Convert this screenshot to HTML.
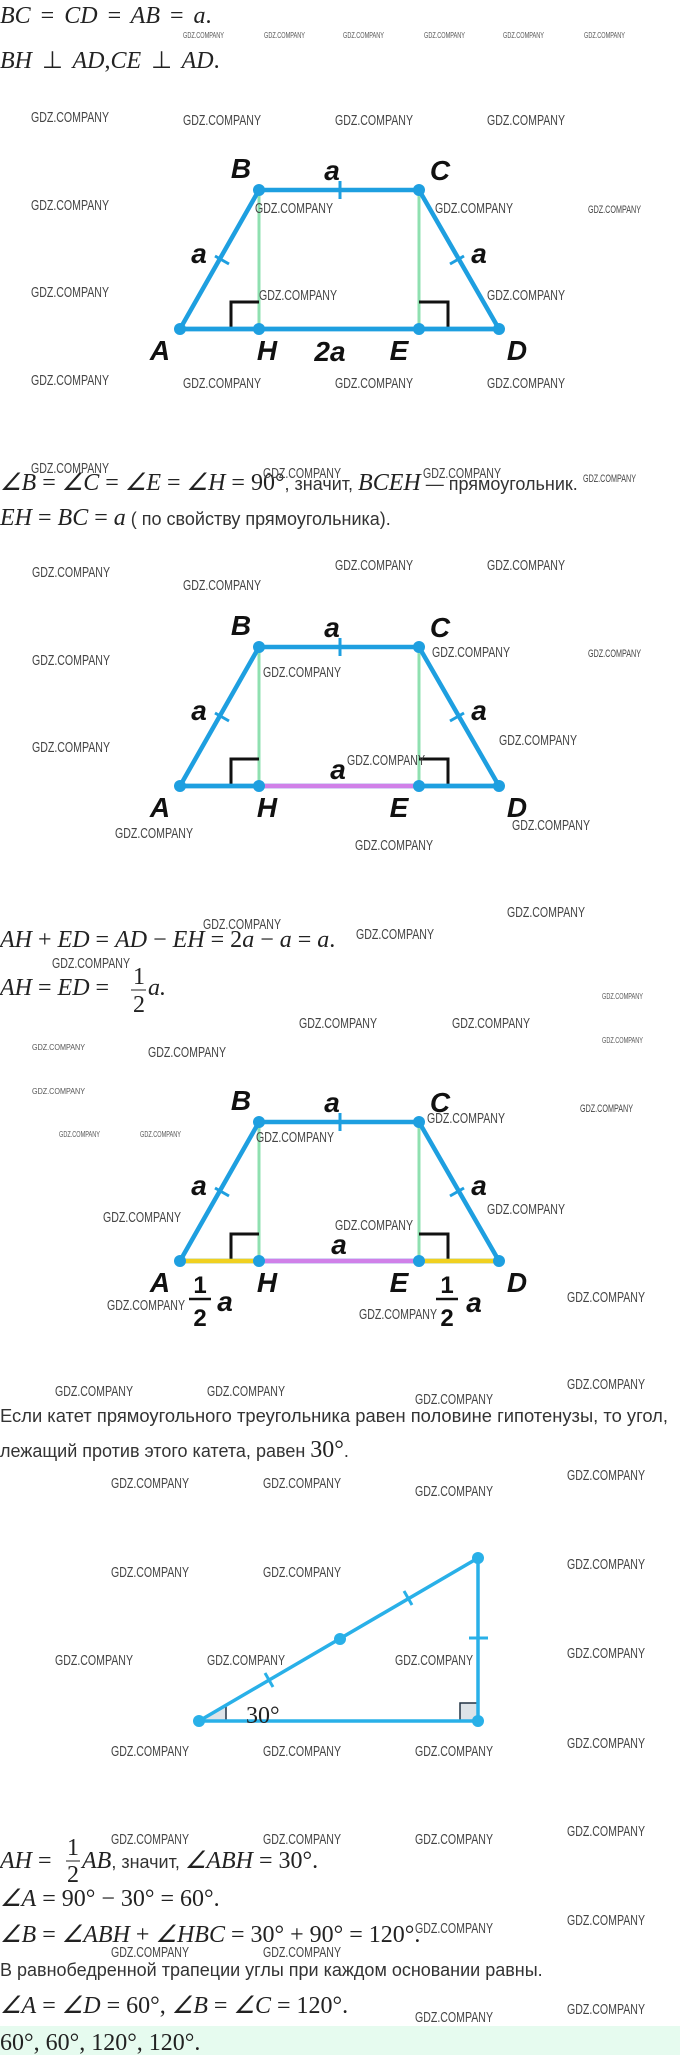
<!DOCTYPE html>
<html><head><meta charset="utf-8"><style>
html,body{margin:0;padding:0;background:#fff;}
svg{display:block;}
.m{font-family:"Liberation Serif",serif;font-size:24px;fill:#222;}
.i{font-style:italic;}
.r{font-family:"Liberation Sans","Noto Sans CJK SC",sans-serif;font-size:18px;fill:#333;}
.w{font-family:"Liberation Sans",sans-serif;font-size:15px;fill:#444;}
.ws{font-family:"Liberation Sans",sans-serif;font-size:8px;fill:#555;}
.L{font-family:"Liberation Sans",sans-serif;font-weight:bold;font-style:italic;font-size:28px;fill:#111;text-anchor:middle;}
</style></head><body>
<svg width="680" height="2055" viewBox="0 0 680 2055" xmlns="http://www.w3.org/2000/svg">
<defs>
<g id="trap">
  <line x1="259" y1="190" x2="259" y2="329" stroke="#8fe0b0" stroke-width="3"/>
  <line x1="419" y1="190" x2="419" y2="329" stroke="#8fe0b0" stroke-width="3"/>
  <path d="M231,329 V302 H259 M448,329 V302 H419" fill="none" stroke="#111" stroke-width="3"/>
  <polygon points="180,329 259,190 419,190 499,329" fill="none" stroke="#1e9fe0" stroke-width="4.5" stroke-linejoin="round"/>
  <line x1="340" y1="181" x2="340" y2="199" stroke="#1e9fe0" stroke-width="3"/>
  <line x1="215" y1="256" x2="229" y2="264" stroke="#1e9fe0" stroke-width="3"/>
  <line x1="450" y1="264" x2="464" y2="256" stroke="#1e9fe0" stroke-width="3"/>
  <text class="L" x="241" y="178">B</text>
  <text class="L" x="332" y="180">a</text>
  <text class="L" x="440" y="180">C</text>
  <text class="L" x="199" y="263">a</text>
  <text class="L" x="479" y="263">a</text>
  <text class="L" x="160" y="360">A</text>
  <text class="L" x="267" y="360">H</text>
  <text class="L" x="399" y="360">E</text>
  <text class="L" x="517" y="360">D</text>
</g>
<g id="dots" fill="#1e9fe0">
  <circle cx="180" cy="329" r="6"/><circle cx="259" cy="329" r="6"/><circle cx="419" cy="329" r="6"/>
  <circle cx="499" cy="329" r="6"/><circle cx="259" cy="190" r="6"/><circle cx="419" cy="190" r="6"/>
</g>
</defs>

<text class="m i" x="0" y="23" word-spacing="4">BC <tspan font-style="normal">=</tspan> CD <tspan font-style="normal">=</tspan> AB <tspan font-style="normal">=</tspan> a<tspan font-style="normal">.</tspan></text>
<text class="m i" x="0" y="68" word-spacing="4">BH <tspan font-style="normal">⊥</tspan> AD<tspan font-style="normal">,</tspan>CE <tspan font-style="normal">⊥</tspan> AD<tspan font-style="normal">.</tspan></text>
<g class="ws">
<text x="183" y="38" textLength="41" lengthAdjust="spacingAndGlyphs">GDZ.COMPANY</text>
<text x="264" y="38" textLength="41" lengthAdjust="spacingAndGlyphs">GDZ.COMPANY</text>
<text x="343" y="38" textLength="41" lengthAdjust="spacingAndGlyphs">GDZ.COMPANY</text>
<text x="424" y="38" textLength="41" lengthAdjust="spacingAndGlyphs">GDZ.COMPANY</text>
<text x="503" y="38" textLength="41" lengthAdjust="spacingAndGlyphs">GDZ.COMPANY</text>
<text x="584" y="38" textLength="41" lengthAdjust="spacingAndGlyphs">GDZ.COMPANY</text>
</g>

<use href="#trap"/>
<line x1="180" y1="329" x2="499" y2="329" stroke="#1e9fe0" stroke-width="4.5"/>
<use href="#dots"/>
<text class="L" x="330" y="361">2a</text>

<text class="m" x="0" y="490"><tspan class="i">∠B</tspan> = <tspan class="i">∠C</tspan> = <tspan class="i">∠E</tspan> = <tspan class="i">∠H</tspan> = 90°<tspan class="r">, значит, </tspan><tspan class="i">BCEH</tspan><tspan class="r"> — прямоугольник.</tspan></text>
<text class="m" x="0" y="525"><tspan class="i">EH</tspan> = <tspan class="i">BC</tspan> = <tspan class="i">a</tspan><tspan class="r"> ( по свойству прямоугольника).</tspan></text>

<g transform="translate(0,457)">
<use href="#trap"/>
<line x1="180" y1="329" x2="259" y2="329" stroke="#1e9fe0" stroke-width="4.5"/>
<line x1="419" y1="329" x2="499" y2="329" stroke="#1e9fe0" stroke-width="4.5"/>
<line x1="259" y1="329" x2="419" y2="329" stroke="#d080e8" stroke-width="4.5"/>
<use href="#dots"/>
<text class="L" x="338" y="322">a</text>
</g>

<text class="m" x="0" y="947"><tspan class="i">AH</tspan> + <tspan class="i">ED</tspan> = <tspan class="i">AD</tspan> − <tspan class="i">EH</tspan> = 2<tspan class="i">a</tspan> − <tspan class="i">a</tspan> = <tspan class="i">a</tspan>.</text>
<text class="m" x="0" y="995"><tspan class="i">AH</tspan> = <tspan class="i">ED</tspan> = </text>
<text class="m" x="133" y="984" font-size="19">1</text>
<line x1="131" y1="990" x2="146" y2="990" stroke="#222" stroke-width="1"/>
<text class="m" x="133" y="1012" font-size="19">2</text>
<text class="m i" x="148" y="995">a.</text>

<g transform="translate(0,932)">
<use href="#trap"/>
<line x1="180" y1="329" x2="259" y2="329" stroke="#f0d020" stroke-width="4.5"/>
<line x1="419" y1="329" x2="499" y2="329" stroke="#f0d020" stroke-width="4.5"/>
<line x1="259" y1="329" x2="419" y2="329" stroke="#d080e8" stroke-width="4.5"/>
<use href="#dots"/>
<text class="L" x="339" y="322">a</text>
</g>
<g font-family="Liberation Sans,sans-serif" font-weight="bold" font-size="24" fill="#111" text-anchor="middle">
<text x="200" y="1293">1</text><text x="200" y="1326">2</text>
<text x="447" y="1293">1</text><text x="447" y="1326">2</text>
</g>
<line x1="189" y1="1299" x2="211" y2="1299" stroke="#111" stroke-width="2.5"/>
<line x1="436" y1="1299" x2="458" y2="1299" stroke="#111" stroke-width="2.5"/>
<text class="L" x="225" y="1311">a</text>
<text class="L" x="474" y="1312">a</text>

<text class="r" x="0" y="1422" textLength="668" lengthAdjust="spacingAndGlyphs">Если катет прямоугольного треугольника равен половине гипотенузы, то угол,</text>
<text class="r" x="0" y="1457">лежащий против этого катета, равен <tspan class="m" font-size="22">30°</tspan>.</text>

<polygon points="199,1721 226,1721 226,1706" fill="#dde3e8" stroke="#234" stroke-width="1.5"/>
<rect x="460" y="1703" width="18" height="18" fill="#dde3e8" stroke="#234" stroke-width="1.5"/>
<polygon points="199,1721 478,1558 478,1721" fill="none" stroke="#29b0e8" stroke-width="3.5" stroke-linejoin="round"/>
<line x1="404" y1="1591" x2="412" y2="1605" stroke="#29b0e8" stroke-width="3"/>
<line x1="265" y1="1673" x2="273" y2="1687" stroke="#29b0e8" stroke-width="3"/>
<line x1="469" y1="1638" x2="488" y2="1638" stroke="#29b0e8" stroke-width="3"/>
<g fill="#29b0e8"><circle cx="199" cy="1721" r="6"/><circle cx="478" cy="1558" r="6"/><circle cx="478" cy="1721" r="6"/><circle cx="340" cy="1639" r="6"/></g>
<text class="m" x="246" y="1723" font-size="22">30°</text>

<text class="m" x="0" y="1868"><tspan class="i">AH</tspan> = </text>
<text class="m" x="67" y="1855" font-size="19">1</text>
<line x1="66" y1="1861" x2="80" y2="1861" stroke="#222" stroke-width="1"/>
<text class="m" x="67" y="1882" font-size="19">2</text>
<text class="m" x="82" y="1868"><tspan class="i">AB</tspan><tspan class="r">, значит, </tspan><tspan class="i">∠ABH</tspan> = 30°.</text>
<text class="m" x="0" y="1906"><tspan class="i">∠A</tspan> = 90° − 30° = 60°.</text>
<text class="m" x="0" y="1942"><tspan class="i">∠B</tspan> = <tspan class="i">∠ABH</tspan> + <tspan class="i">∠HBC</tspan> = 30° + 90° = 120°.</text>
<text class="r" x="0" y="1976">В равнобедренной трапеции углы при каждом основании равны.</text>
<text class="m" x="0" y="2013"><tspan class="i">∠A</tspan> = <tspan class="i">∠D</tspan> = 60°, <tspan class="i">∠B</tspan> = <tspan class="i">∠C</tspan> = 120°.</text>
<rect x="0" y="2026" width="680" height="29" fill="#e6fbef"/>
<text class="m" x="0" y="2050">60°, 60°, 120°, 120°.</text>

<g class="w">
<text x="31" y="122" textLength="78" lengthAdjust="spacingAndGlyphs">GDZ.COMPANY</text>
<text x="183" y="125" textLength="78" lengthAdjust="spacingAndGlyphs">GDZ.COMPANY</text>
<text x="335" y="125" textLength="78" lengthAdjust="spacingAndGlyphs">GDZ.COMPANY</text>
<text x="487" y="125" textLength="78" lengthAdjust="spacingAndGlyphs">GDZ.COMPANY</text>
<text x="31" y="210" textLength="78" lengthAdjust="spacingAndGlyphs">GDZ.COMPANY</text>
<text x="255" y="213" textLength="78" lengthAdjust="spacingAndGlyphs">GDZ.COMPANY</text>
<text x="435" y="213" textLength="78" lengthAdjust="spacingAndGlyphs">GDZ.COMPANY</text>
<text x="588" y="213" textLength="53" lengthAdjust="spacingAndGlyphs" font-size="11">GDZ.COMPANY</text>
<text x="31" y="297" textLength="78" lengthAdjust="spacingAndGlyphs">GDZ.COMPANY</text>
<text x="259" y="300" textLength="78" lengthAdjust="spacingAndGlyphs">GDZ.COMPANY</text>
<text x="487" y="300" textLength="78" lengthAdjust="spacingAndGlyphs">GDZ.COMPANY</text>
<text x="31" y="385" textLength="78" lengthAdjust="spacingAndGlyphs">GDZ.COMPANY</text>
<text x="183" y="388" textLength="78" lengthAdjust="spacingAndGlyphs">GDZ.COMPANY</text>
<text x="335" y="388" textLength="78" lengthAdjust="spacingAndGlyphs">GDZ.COMPANY</text>
<text x="487" y="388" textLength="78" lengthAdjust="spacingAndGlyphs">GDZ.COMPANY</text>
<text x="31" y="473" textLength="78" lengthAdjust="spacingAndGlyphs">GDZ.COMPANY</text>
<text x="263" y="478" textLength="78" lengthAdjust="spacingAndGlyphs">GDZ.COMPANY</text>
<text x="423" y="478" textLength="78" lengthAdjust="spacingAndGlyphs">GDZ.COMPANY</text>
<text x="583" y="482" textLength="53" lengthAdjust="spacingAndGlyphs" font-size="11">GDZ.COMPANY</text>

<text x="32" y="577" textLength="78" lengthAdjust="spacingAndGlyphs">GDZ.COMPANY</text>
<text x="183" y="590" textLength="78" lengthAdjust="spacingAndGlyphs">GDZ.COMPANY</text>
<text x="335" y="570" textLength="78" lengthAdjust="spacingAndGlyphs">GDZ.COMPANY</text>
<text x="487" y="570" textLength="78" lengthAdjust="spacingAndGlyphs">GDZ.COMPANY</text>
<text x="32" y="665" textLength="78" lengthAdjust="spacingAndGlyphs">GDZ.COMPANY</text>
<text x="432" y="657" textLength="78" lengthAdjust="spacingAndGlyphs">GDZ.COMPANY</text>
<text x="588" y="657" textLength="53" lengthAdjust="spacingAndGlyphs" font-size="11">GDZ.COMPANY</text>
<text x="263" y="677" textLength="78" lengthAdjust="spacingAndGlyphs">GDZ.COMPANY</text>
<text x="32" y="752" textLength="78" lengthAdjust="spacingAndGlyphs">GDZ.COMPANY</text>
<text x="499" y="745" textLength="78" lengthAdjust="spacingAndGlyphs">GDZ.COMPANY</text>
<text x="347" y="765" textLength="78" lengthAdjust="spacingAndGlyphs">GDZ.COMPANY</text>
<text x="115" y="838" textLength="78" lengthAdjust="spacingAndGlyphs">GDZ.COMPANY</text>
<text x="512" y="830" textLength="78" lengthAdjust="spacingAndGlyphs">GDZ.COMPANY</text>
<text x="355" y="850" textLength="78" lengthAdjust="spacingAndGlyphs">GDZ.COMPANY</text>

<text x="203" y="929" textLength="78" lengthAdjust="spacingAndGlyphs">GDZ.COMPANY</text>
<text x="356" y="939" textLength="78" lengthAdjust="spacingAndGlyphs">GDZ.COMPANY</text>
<text x="507" y="917" textLength="78" lengthAdjust="spacingAndGlyphs">GDZ.COMPANY</text>
<text x="52" y="968" textLength="78" lengthAdjust="spacingAndGlyphs">GDZ.COMPANY</text>
<text x="299" y="1028" textLength="78" lengthAdjust="spacingAndGlyphs">GDZ.COMPANY</text>
<text x="452" y="1028" textLength="78" lengthAdjust="spacingAndGlyphs">GDZ.COMPANY</text>
<text x="148" y="1057" textLength="78" lengthAdjust="spacingAndGlyphs">GDZ.COMPANY</text>
<text x="427" y="1123" textLength="78" lengthAdjust="spacingAndGlyphs">GDZ.COMPANY</text>
<text x="256" y="1142" textLength="78" lengthAdjust="spacingAndGlyphs">GDZ.COMPANY</text>
<text x="580" y="1112" textLength="53" lengthAdjust="spacingAndGlyphs" font-size="11">GDZ.COMPANY</text>
<text x="103" y="1222" textLength="78" lengthAdjust="spacingAndGlyphs">GDZ.COMPANY</text>
<text x="487" y="1214" textLength="78" lengthAdjust="spacingAndGlyphs">GDZ.COMPANY</text>
<text x="335" y="1230" textLength="78" lengthAdjust="spacingAndGlyphs">GDZ.COMPANY</text>
<text x="107" y="1310" textLength="78" lengthAdjust="spacingAndGlyphs">GDZ.COMPANY</text>
<text x="359" y="1319" textLength="78" lengthAdjust="spacingAndGlyphs">GDZ.COMPANY</text>
<text x="567" y="1302" textLength="78" lengthAdjust="spacingAndGlyphs">GDZ.COMPANY</text>

<text x="55" y="1396" textLength="78" lengthAdjust="spacingAndGlyphs">GDZ.COMPANY</text>
<text x="207" y="1396" textLength="78" lengthAdjust="spacingAndGlyphs">GDZ.COMPANY</text>
<text x="415" y="1404" textLength="78" lengthAdjust="spacingAndGlyphs">GDZ.COMPANY</text>
<text x="567" y="1389" textLength="78" lengthAdjust="spacingAndGlyphs">GDZ.COMPANY</text>
<text x="111" y="1488" textLength="78" lengthAdjust="spacingAndGlyphs">GDZ.COMPANY</text>
<text x="263" y="1488" textLength="78" lengthAdjust="spacingAndGlyphs">GDZ.COMPANY</text>
<text x="415" y="1496" textLength="78" lengthAdjust="spacingAndGlyphs">GDZ.COMPANY</text>
<text x="567" y="1480" textLength="78" lengthAdjust="spacingAndGlyphs">GDZ.COMPANY</text>
<text x="111" y="1577" textLength="78" lengthAdjust="spacingAndGlyphs">GDZ.COMPANY</text>
<text x="263" y="1577" textLength="78" lengthAdjust="spacingAndGlyphs">GDZ.COMPANY</text>
<text x="567" y="1569" textLength="78" lengthAdjust="spacingAndGlyphs">GDZ.COMPANY</text>
<text x="55" y="1665" textLength="78" lengthAdjust="spacingAndGlyphs">GDZ.COMPANY</text>
<text x="207" y="1665" textLength="78" lengthAdjust="spacingAndGlyphs">GDZ.COMPANY</text>
<text x="395" y="1665" textLength="78" lengthAdjust="spacingAndGlyphs">GDZ.COMPANY</text>
<text x="567" y="1658" textLength="78" lengthAdjust="spacingAndGlyphs">GDZ.COMPANY</text>
<text x="111" y="1756" textLength="78" lengthAdjust="spacingAndGlyphs">GDZ.COMPANY</text>
<text x="263" y="1756" textLength="78" lengthAdjust="spacingAndGlyphs">GDZ.COMPANY</text>
<text x="415" y="1756" textLength="78" lengthAdjust="spacingAndGlyphs">GDZ.COMPANY</text>
<text x="567" y="1748" textLength="78" lengthAdjust="spacingAndGlyphs">GDZ.COMPANY</text>
<text x="111" y="1844" textLength="78" lengthAdjust="spacingAndGlyphs">GDZ.COMPANY</text>
<text x="263" y="1844" textLength="78" lengthAdjust="spacingAndGlyphs">GDZ.COMPANY</text>
<text x="415" y="1844" textLength="78" lengthAdjust="spacingAndGlyphs">GDZ.COMPANY</text>
<text x="567" y="1836" textLength="78" lengthAdjust="spacingAndGlyphs">GDZ.COMPANY</text>
<text x="415" y="1933" textLength="78" lengthAdjust="spacingAndGlyphs">GDZ.COMPANY</text>
<text x="567" y="1925" textLength="78" lengthAdjust="spacingAndGlyphs">GDZ.COMPANY</text>
<text x="111" y="1957" textLength="78" lengthAdjust="spacingAndGlyphs">GDZ.COMPANY</text>
<text x="263" y="1957" textLength="78" lengthAdjust="spacingAndGlyphs">GDZ.COMPANY</text>
<text x="415" y="2022" textLength="78" lengthAdjust="spacingAndGlyphs">GDZ.COMPANY</text>
<text x="567" y="2014" textLength="78" lengthAdjust="spacingAndGlyphs">GDZ.COMPANY</text>
</g>
<g class="ws">
<text x="32" y="1050" textLength="53" lengthAdjust="spacingAndGlyphs">GDZ.COMPANY</text>
<text x="32" y="1094" textLength="53" lengthAdjust="spacingAndGlyphs">GDZ.COMPANY</text>
<text x="59" y="1137" textLength="41" lengthAdjust="spacingAndGlyphs">GDZ.COMPANY</text>
<text x="140" y="1137" textLength="41" lengthAdjust="spacingAndGlyphs">GDZ.COMPANY</text>
<text x="602" y="999" textLength="41" lengthAdjust="spacingAndGlyphs">GDZ.COMPANY</text>
<text x="602" y="1043" textLength="41" lengthAdjust="spacingAndGlyphs">GDZ.COMPANY</text>
</g>
</svg>
</body></html>
